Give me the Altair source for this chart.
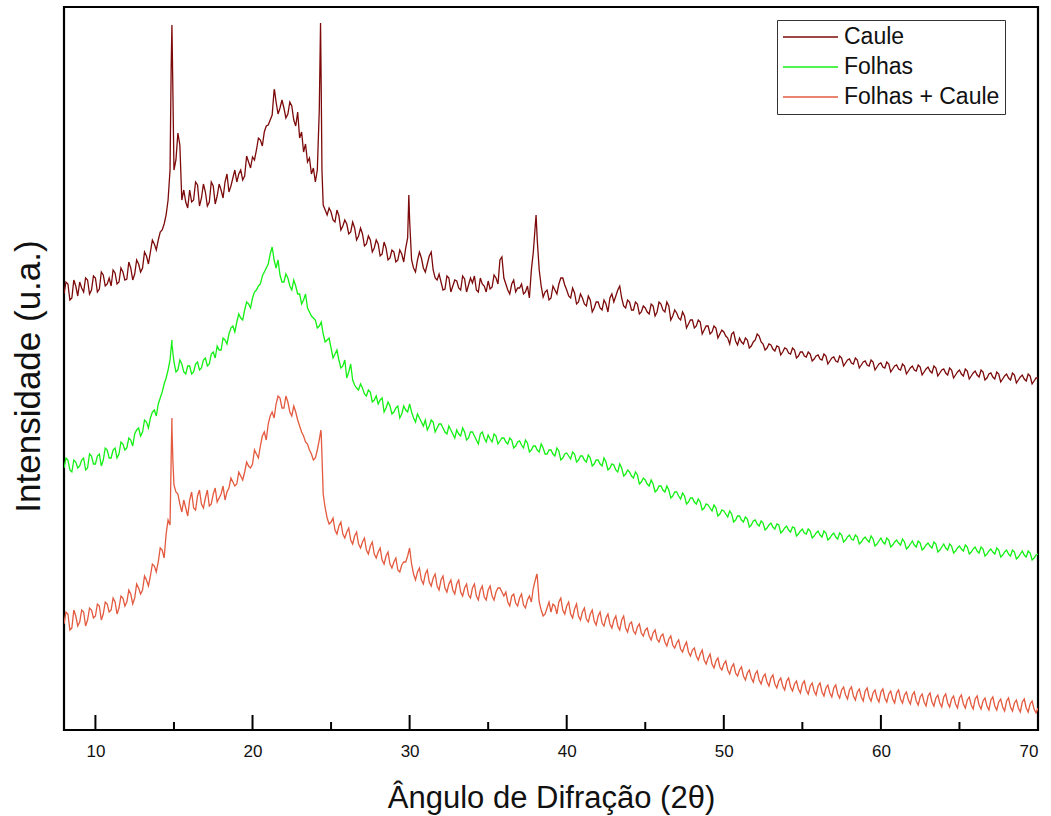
import altair as alt
import pandas as pd

# 2-theta grids: main grid 8.00 .. 70.00 every 0.25 deg (249 points),
# intermediate grid 8.125 .. 69.875 every 0.25 deg (248 points)
theta = [round(8 + 0.25 * i, 3) for i in range(249)]
theta_mid = [round(8.125 + 0.25 * i, 3) for i in range(248)]

# Intensities (arbitrary units), one row per degree
caule = [
    436, 446, 432, 444,  # 8
    448, 438, 450, 440,  # 9
    452, 441, 455, 446,  # 10
    444, 457, 448, 458,  # 11
    451, 462, 456, 466,  # 12
    462, 474, 478, 486,  # 13
    490, 500, 515, 560,  # 14
    560, 597, 530, 528,  # 15
    540, 530, 545, 532,  # 16
    538, 528, 544, 534,  # 17
    540, 548, 538, 552,  # 18
    548, 560, 554, 568,  # 19
    573, 580, 590, 598,  # 20
    605, 615, 628, 622,  # 21
    622, 616, 624, 604,  # 22
    592, 578, 568, 556,  # 23
    548, 620, 525, 515,  # 24
    518, 508, 514, 504,  # 25
    506, 498, 502, 494,  # 26
    496, 486, 490, 482,  # 27
    486, 476, 482, 472,  # 28
    478, 470, 476, 482,  # 29
    510, 462, 470, 472,  # 30
    458, 474, 460, 450,  # 31
    448, 441, 452, 444,  # 32
    449, 440, 451, 445,  # 33
    447, 440, 452, 444,  # 34
    449, 443, 452, 470,  # 35
    452, 440, 446, 438,  # 36
    442, 436, 444, 460,  # 37
    505, 460, 433, 440,  # 38
    432, 440, 446, 452,  # 39
    440, 432, 437, 428,  # 40
    432, 424, 430, 422,  # 41
    428, 420, 426, 432,  # 42
    428, 440, 432, 422,  # 43
    428, 420, 426, 418,  # 44
    422, 416, 424, 418,  # 45
    426, 418, 424, 414,  # 46
    417, 410, 414, 406,  # 47
    410, 404, 408, 400,  # 48
    404, 398, 402, 396,  # 49
    398, 392, 396, 389,  # 50
    392, 386, 390, 384,  # 51
    390, 394, 386, 382,  # 52
    385, 379, 383, 378,  # 53
    381, 376, 380, 374,  # 54
    378, 373, 376, 371,  # 55
    375, 370, 374, 369,  # 56
    373, 368, 372, 367,  # 57
    371, 366, 370, 365,  # 58
    369, 364, 368, 363,  # 59
    367, 362, 366, 361,  # 60
    365, 360, 364, 359,  # 61
    364, 359, 363, 358,  # 62
    363, 357, 362, 357,  # 63
    361, 355, 360, 355,  # 64
    360, 354, 359, 354,  # 65
    359, 353, 358, 352,  # 66
    357, 351, 356, 351,  # 67
    356, 350, 355, 350,  # 68
    355, 349, 354, 349,  # 69
    352,                 # 70
]
caule_mid = [
    448, 430, 450, 434,  # 8
    442, 452, 436, 454,  # 9
    438, 458, 444, 452,  # 10
    460, 446, 462, 450,  # 11
    468, 450, 470, 458,  # 12
    478, 466, 490, 480,  # 13
    498, 506, 530, 700,  # 14
    570, 585, 540, 522,  # 15
    528, 548, 524, 546,  # 16
    524, 548, 526, 546,  # 17
    532, 556, 544, 560,  # 18
    556, 550, 574, 562,  # 19
    570, 592, 584, 604,  # 20
    610, 640, 616, 630,  # 21
    612, 628, 610, 618,  # 22
    598, 586, 572, 562,  # 23
    560, 640, 520, 522,  # 24
    510, 520, 500, 510,  # 25
    496, 508, 490, 502,  # 26
    484, 494, 478, 490,  # 27
    474, 488, 470, 480,  # 28
    468, 480, 468, 492,  # 29
    470, 458, 478, 462,  # 30
    466, 478, 452, 456,  # 31
    440, 454, 438, 450,  # 32
    442, 454, 438, 452,  # 33
    454, 438, 446, 438,  # 34
    441, 455, 446, 473,  # 35
    446, 436, 450, 442,  # 36
    446, 438, 432, 478,  # 37
    490, 444, 438, 430,  # 38
    444, 436, 452, 445,  # 39
    434, 442, 426, 436,  # 40
    426, 434, 418, 428,  # 41
    422, 430, 418, 436,  # 42
    434, 444, 424, 430,  # 43
    420, 428, 416, 424,  # 44
    418, 426, 414, 428,  # 45
    420, 428, 410, 420,  # 46
    412, 418, 402, 410,  # 47
    402, 410, 396, 404,  # 48
    396, 404, 392, 400,  # 49
    394, 386, 398, 385,  # 50
    388, 392, 382, 388,  # 51
    396, 388, 380, 386,  # 52
    381, 384, 375, 382,  # 53
    377, 382, 372, 378,  # 54
    374, 378, 369, 374,  # 55
    371, 376, 366, 372,  # 56
    369, 374, 364, 370,  # 57
    367, 372, 362, 368,  # 58
    365, 370, 360, 366,  # 59
    363, 368, 358, 364,  # 60
    361, 366, 356, 362,  # 61
    360, 365, 355, 361,  # 62
    359, 364, 354, 360,  # 63
    357, 362, 352, 358,  # 64
    356, 361, 351, 357,  # 65
    355, 360, 350, 356,  # 66
    353, 358, 348, 354,  # 67
    352, 357, 347, 353,  # 68
    351, 356, 346, 352,  # 69
]
caule_peak_x = [14.82, 14.87, 14.93, 21.4, 24.33, 24.42, 29.95, 38.05]
caule_peak_y = [660, 705, 640, 640, 707, 560, 535, 515]

folhas = [
    262, 270, 258, 268,  # 8
    264, 272, 262, 274,  # 9
    266, 276, 270, 280,  # 10
    272, 282, 276, 286,  # 11
    282, 290, 296, 302,  # 12
    298, 308, 312, 320,  # 13
    326, 338, 352, 370,  # 14
    368, 360, 366, 356,  # 15
    364, 358, 368, 362,  # 16
    372, 366, 378, 384,  # 17
    380, 390, 396, 404,  # 18
    408, 412, 420, 426,  # 19
    432, 440, 446, 458,  # 20
    466, 483, 462, 455,  # 21
    448, 452, 440, 444,  # 22
    436, 430, 422, 414,  # 23
    410, 404, 396, 390,  # 24
    382, 376, 370, 364,  # 25
    352, 366, 345, 340,  # 26
    342, 334, 338, 330,  # 27
    326, 332, 322, 324,  # 28
    318, 324, 316, 320,  # 29
    326, 312, 316, 308,  # 30
    310, 304, 308, 302,  # 31
    306, 298, 304, 296,  # 32
    300, 294, 298, 292,  # 33
    298, 290, 296, 292,  # 34
    295, 288, 294, 289,  # 35
    292, 286, 290, 284,  # 36
    289, 282, 287, 280,  # 37
    284, 278, 282, 276,  # 38
    280, 274, 279, 272,  # 39
    277, 271, 276, 270,  # 40
    274, 268, 272, 266,  # 41
    270, 264, 268, 262,  # 42
    265, 258, 262, 256,  # 43
    258, 252, 255, 248,  # 44
    250, 244, 246, 240,  # 45
    244, 238, 240, 234,  # 46
    238, 231, 234, 228,  # 47
    232, 226, 228, 222,  # 48
    225, 219, 222, 216,  # 49
    219, 213, 216, 210,  # 50
    214, 208, 211, 205,  # 51
    210, 204, 207, 202,  # 52
    207, 201, 205, 199,  # 53
    204, 198, 202, 196,  # 54
    201, 196, 199, 194,  # 55
    199, 193, 197, 192,  # 56
    197, 191, 195, 190,  # 57
    195, 190, 193, 188,  # 58
    193, 188, 191, 186,  # 59
    192, 186, 190, 185,  # 60
    190, 185, 188, 183,  # 61
    189, 183, 187, 182,  # 62
    187, 182, 186, 180,  # 63
    186, 180, 184, 179,  # 64
    184, 179, 183, 178,  # 65
    183, 177, 181, 176,  # 66
    181, 176, 180, 175,  # 67
    180, 174, 178, 173,  # 68
    179, 173, 177, 172,  # 69
    176,                 # 70
]
folhas_mid = [
    272, 260, 270, 262,  # 8
    270, 260, 276, 266,  # 9
    274, 264, 282, 272,  # 10
    280, 272, 288, 280,  # 11
    292, 284, 300, 294,  # 12
    310, 302, 318, 314,  # 13
    332, 346, 360, 385,  # 14
    358, 370, 358, 364,  # 15
    356, 366, 360, 370,  # 16
    364, 376, 372, 380,  # 17
    392, 386, 402, 398,  # 18
    416, 410, 428, 422,  # 19
    438, 444, 454, 462,  # 20
    476, 470, 470, 448,  # 21
    456, 444, 450, 436,  # 22
    426, 436, 418, 412,  # 23
    402, 408, 388, 392,  # 24
    372, 380, 362, 370,  # 25
    358, 350, 342, 346,  # 26
    336, 340, 328, 334,  # 27
    330, 318, 328, 316,  # 28
    322, 312, 324, 318,  # 29
    318, 308, 312, 304,  # 30
    300, 310, 298, 306,  # 31
    302, 296, 300, 292,  # 32
    296, 302, 290, 298,  # 33
    294, 286, 298, 288,  # 34
    291, 296, 286, 292,  # 35
    288, 292, 282, 288,  # 36
    285, 290, 278, 284,  # 37
    280, 286, 276, 280,  # 38
    276, 282, 270, 276,  # 39
    274, 278, 268, 274,  # 40
    270, 275, 264, 270,  # 41
    266, 272, 260, 266,  # 42
    260, 266, 254, 260,  # 43
    254, 258, 246, 252,  # 44
    246, 250, 238, 244,  # 45
    240, 244, 232, 238,  # 46
    234, 237, 226, 232,  # 47
    228, 231, 220, 226,  # 48
    222, 225, 214, 220,  # 49
    216, 219, 208, 214,  # 50
    210, 213, 203, 209,  # 51
    206, 209, 200, 205,  # 52
    203, 206, 197, 202,  # 53
    200, 203, 194, 199,  # 54
    197, 201, 192, 197,  # 55
    195, 199, 190, 195,  # 56
    193, 197, 188, 193,  # 57
    191, 195, 186, 191,  # 58
    190, 194, 184, 189,  # 59
    188, 192, 183, 188,  # 60
    187, 191, 181, 186,  # 61
    185, 189, 180, 185,  # 62
    184, 188, 178, 183,  # 63
    182, 186, 177, 182,  # 64
    181, 185, 176, 181,  # 65
    179, 183, 174, 179,  # 66
    178, 182, 173, 178,  # 67
    176, 180, 171, 176,  # 68
    175, 179, 170, 175,  # 69
]
folhas_peak_x = [14.87]
folhas_peak_y = [390]

mistura = [
    106, 116, 102, 114,  # 8
    108, 118, 110, 120,  # 9
    114, 124, 116, 126,  # 10
    120, 128, 122, 132,  # 11
    128, 136, 132, 142,  # 12
    140, 150, 154, 164,  # 13
    168, 180, 196, 205,  # 14
    245, 236, 218, 222,  # 15
    230, 222, 234, 226,  # 16
    232, 224, 236, 228,  # 17
    236, 230, 242, 248,  # 18
    246, 254, 258, 264,  # 19
    266, 276, 284, 298,  # 20
    306, 318, 326, 332,  # 21
    322, 328, 314, 318,  # 22
    304, 294, 286, 276,  # 23
    272, 290, 236, 212,  # 24
    208, 200, 204, 196,  # 25
    198, 190, 194, 186,  # 26
    188, 180, 184, 176,  # 27
    178, 170, 174, 166,  # 28
    168, 160, 165, 168,  # 29
    182, 156, 158, 150,  # 30
    156, 148, 152, 144,  # 31
    150, 142, 146, 140,  # 32
    146, 138, 142, 135,  # 33
    142, 134, 140, 133,  # 34
    140, 134, 138, 142,  # 35
    134, 128, 134, 127,  # 36
    132, 125, 130, 128,  # 37
    150, 128, 114, 122,  # 38
    118, 124, 128, 120,  # 39
    124, 116, 121, 114,  # 40
    118, 111, 116, 109,  # 41
    114, 107, 112, 106,  # 42
    110, 104, 110, 102,  # 43
    106, 99, 103, 97,    # 44
    100, 94, 97, 91,     # 45
    94, 88, 91, 85,      # 46
    87, 81, 84, 78,      # 47
    80, 74, 76, 70,      # 48
    72, 66, 69, 63,      # 49
    66, 60, 63, 57,      # 50
    60, 54, 57, 52,      # 51
    56, 50, 53, 48,      # 52
    52, 46, 49, 44,      # 53
    49, 43, 46, 41,      # 54
    46, 40, 44, 39,      # 55
    44, 38, 42, 37,      # 56
    42, 36, 40, 35,      # 57
    40, 34, 38, 33,      # 58
    39, 33, 37, 32,      # 59
    38, 32, 36, 31,      # 60
    37, 31, 35, 30,      # 61
    35, 29, 33, 28,      # 62
    34, 28, 32, 27,      # 63
    33, 27, 31, 26,      # 64
    32, 26, 30, 25,      # 65
    31, 25, 29, 24,      # 66
    30, 24, 28, 23,      # 67
    29, 23, 27, 22,      # 68
    28, 22, 26, 21,      # 69
    22,                  # 70
]
mistura_mid = [
    118, 100, 120, 104,  # 8
    120, 104, 122, 112,  # 9
    126, 110, 128, 118,  # 10
    132, 116, 134, 124,  # 11
    140, 126, 146, 136,  # 12
    154, 144, 166, 158,  # 13
    182, 172, 210, 300,  # 14
    238, 226, 230, 214,  # 15
    238, 220, 240, 222,  # 16
    240, 226, 242, 232,  # 17
    244, 238, 252, 244,  # 18
    258, 250, 268, 262,  # 19
    280, 272, 294, 290,  # 20
    314, 312, 334, 322,  # 21
    334, 318, 324, 310,  # 22
    298, 288, 280, 270,  # 23
    280, 296, 222, 206,  # 24
    212, 196, 208, 192,  # 25
    202, 186, 198, 182,  # 26
    192, 176, 188, 172,  # 27
    182, 166, 178, 162,  # 28
    172, 158, 168, 174,  # 29
    166, 150, 162, 146,  # 30
    160, 144, 156, 140,  # 31
    154, 138, 150, 136,  # 32
    150, 134, 146, 132,  # 33
    146, 130, 144, 130,  # 34
    144, 130, 142, 138,  # 35
    138, 124, 136, 124,  # 36
    136, 122, 134, 142,  # 37
    154, 120, 116, 128,  # 38
    126, 116, 132, 116,  # 39
    128, 112, 126, 110,  # 40
    122, 108, 120, 105,  # 41
    118, 104, 116, 102,  # 42
    114, 100, 114, 98,   # 43
    108, 96, 106, 94,    # 44
    102, 90, 100, 88,    # 45
    96, 84, 94, 82,      # 46
    90, 78, 88, 74,      # 47
    82, 70, 80, 66,      # 48
    76, 62, 72, 60,      # 49
    69, 56, 66, 54,      # 50
    63, 50, 60, 48,      # 51
    59, 46, 56, 44,      # 52
    55, 42, 52, 40,      # 53
    52, 39, 49, 37,      # 54
    49, 36, 47, 35,      # 55
    47, 34, 45, 33,      # 56
    45, 32, 43, 31,      # 57
    43, 30, 41, 29,      # 58
    42, 29, 40, 28,      # 59
    41, 28, 39, 27,      # 60
    40, 27, 38, 26,      # 61
    38, 25, 36, 24,      # 62
    37, 24, 35, 23,      # 63
    36, 23, 34, 22,      # 64
    35, 22, 33, 21,      # 65
    34, 21, 32, 20,      # 66
    33, 20, 31, 19,      # 67
    32, 19, 30, 18,      # 68
    31, 18, 29, 17,      # 69
]
mistura_peak_x = [14.82, 14.87, 14.93, 24.35, 38.1]
mistura_peak_y = [270, 312, 270, 300, 156]

series_names = ["Caule", "Folhas", "Folhas + Caule"]
series_colors = ["#7D0A0A", "#14F014", "#E35A3F"]

major_ticks = [10, 20, 30, 40, 50, 60, 70]
minor_ticks = [15, 25, 35, 45, 55, 65]

frames = []
for name, vals, mids, px, py in [
    ("Caule", caule, caule_mid, caule_peak_x, caule_peak_y),
    ("Folhas", folhas, folhas_mid, folhas_peak_x, folhas_peak_y),
    ("Folhas + Caule", mistura, mistura_mid, mistura_peak_x, mistura_peak_y),
]:
    assert len(vals) == len(theta), (name, len(vals))
    assert len(mids) == len(theta_mid), (name, len(mids))
    d = pd.DataFrame({"theta": list(theta) + list(theta_mid) + px,
                      "I": list(vals) + list(mids) + py})
    d["serie"] = name
    frames.append(d.sort_values("theta", kind="stable"))
df = pd.concat(frames, ignore_index=True)
df["k"] = range(len(df))

font = "Liberation Sans, Arial, sans-serif"

xscale = alt.Scale(domain=[8, 70], nice=False, zero=False)
yscale = alt.Scale(domain=[0, 723], nice=False, zero=False)

lines = alt.Chart(df).mark_line(strokeWidth=1.3, clip=True).encode(
    x=alt.X("theta:Q", scale=xscale,
            axis=alt.Axis(title="Ângulo de Difração (2θ)", values=major_ticks,
                          ticks=False, tickSize=0, domain=False, grid=False,
                          labelPadding=13, labelFontSize=17, labelFont=font,
                          labelColor="#111", titleFont=font, titleFontSize=31,
                          titleFontWeight="normal", titleColor="#111",
                          titleBaseline="alphabetic", titleY=77)),
    y=alt.Y("I:Q", scale=yscale,
            axis=alt.Axis(title="Intensidade (u.a.)", labels=False, ticks=False,
                          domain=False, grid=False, titleFont=font,
                          titleFontSize=35, titleFontWeight="normal",
                          titleColor="#111", titleAngle=270,
                          titleBaseline="alphabetic", titleAlign="center",
                          titleX=-25, titleY=369)),
    color=alt.Color("serie:N",
                    scale=alt.Scale(domain=series_names, range=series_colors),
                    legend=alt.Legend(title=None, orient="none", legendX=713,
                                      legendY=13, symbolType="M-1,0H4",
                                      symbolSize=484, symbolStrokeWidth=1.5,
                                      labelFontSize=23, labelFont=font,
                                      labelColor="#111", labelOffset=38,
                                      rowPadding=6, padding=5,
                                      strokeColor="#333", fillColor="white")),
    order=alt.Order("k:Q"),
)

major = alt.Chart(pd.DataFrame({"t": major_ticks})).mark_rule(
    color="black", strokeWidth=2).encode(
    x=alt.X("t:Q", scale=xscale), y=alt.value(723), y2=alt.value(708))
minor = alt.Chart(pd.DataFrame({"t": minor_ticks})).mark_rule(
    color="black", strokeWidth=2).encode(
    x=alt.X("t:Q", scale=xscale), y=alt.value(723), y2=alt.value(715))

chart = alt.layer(lines, major, minor).properties(
    width=974, height=723,
    autosize=alt.AutoSizeParams(type="none"),
    padding={"left": 64, "top": 7, "right": 13, "bottom": 86},
    background="white",
).configure_view(stroke="black", strokeWidth=2.2)

chart.save("out.html", embed_options={"renderer": "svg", "actions": False})
